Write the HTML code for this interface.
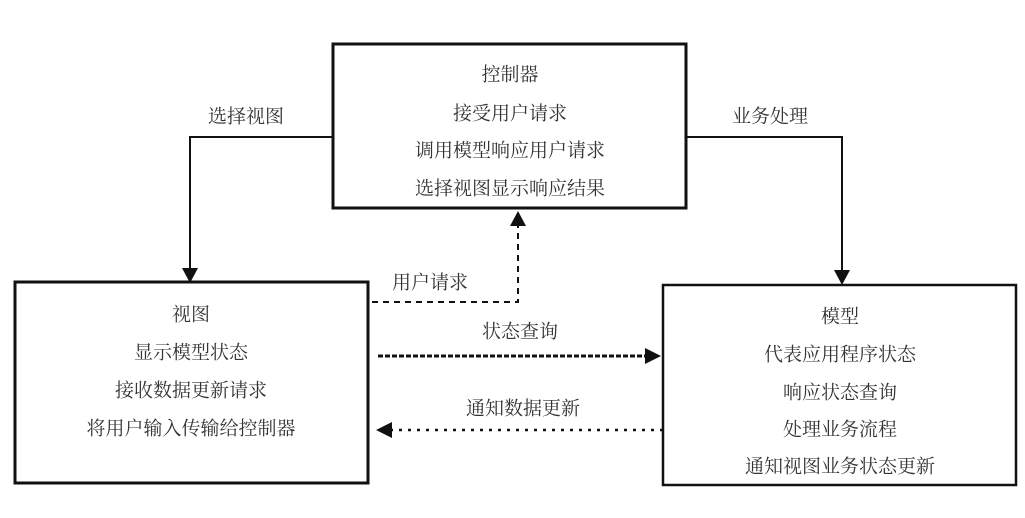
<!DOCTYPE html>
<html><head><meta charset="utf-8"><style>
html,body{margin:0;padding:0;background:#fff;}
svg text{font-family:"Liberation Serif","Noto Serif CJK SC",serif;font-size:19px;fill:#333;text-anchor:middle;dominant-baseline:central;}
</style></head><body>
<svg width="1025" height="513" viewBox="0 0 1025 513" xmlns="http://www.w3.org/2000/svg">
<g fill="none" stroke="#111">
<rect x="333" y="44" width="353" height="164" stroke-width="3"/>
<rect x="15" y="282" width="353" height="201" stroke-width="3"/>
<rect x="663" y="285" width="353" height="200" stroke-width="2.5"/>
<polyline points="333,137 190,137 190,268" stroke-width="2"/>
<polyline points="686,137 842,137 842,270" stroke-width="2"/>
<polyline points="372,302 518,302 518,226" stroke-width="2" stroke-dasharray="6,5"/>
<line x1="378" y1="356" x2="645" y2="356" stroke-width="3" stroke-dasharray="5,2"/>
<line x1="663" y1="430" x2="392" y2="430" stroke-width="2.5" stroke-dasharray="3,6"/>
</g>
<g fill="#111">
<polygon points="182,268 198,268 190,283"/>
<polygon points="834,270 850,270 842,285"/>
<polygon points="510,226 526,226 518,211"/>
<polygon points="645,348 645,364 661,356"/>
<polygon points="392,422 392,438 376,430"/>
</g>
<text x="510" y="75">控制器</text>
<text x="510" y="114">接受用户请求</text>
<text x="510" y="151">调用模型响应用户请求</text>
<text x="510" y="189">选择视图显示响应结果</text>
<text x="191" y="315">视图</text>
<text x="191" y="353">显示模型状态</text>
<text x="191" y="391">接收数据更新请求</text>
<text x="191" y="429">将用户输入传输给控制器</text>
<text x="840" y="317">模型</text>
<text x="840" y="355">代表应用程序状态</text>
<text x="840" y="393">响应状态查询</text>
<text x="840" y="430">处理业务流程</text>
<text x="840" y="467">通知视图业务状态更新</text>
<text x="246" y="117">选择视图</text>
<text x="770" y="117">业务处理</text>
<text x="430" y="283">用户请求</text>
<text x="520" y="332">状态查询</text>
<text x="523" y="409">通知数据更新</text>
</svg>
</body></html>
